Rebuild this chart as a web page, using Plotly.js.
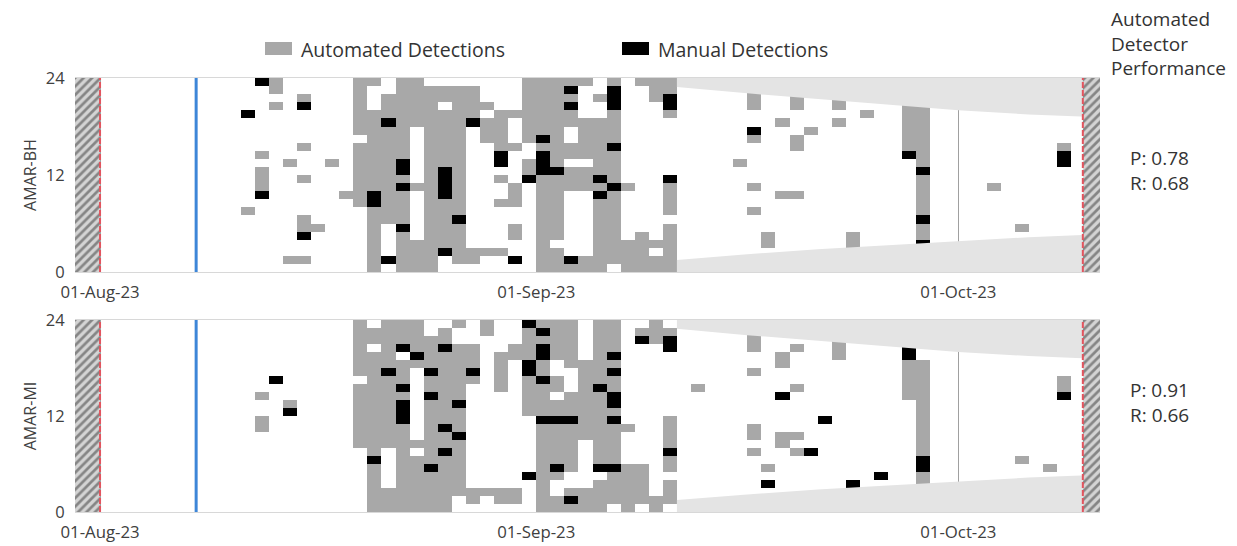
<!DOCTYPE html>
<html><head><meta charset="utf-8">
<script src="https://cdn.plot.ly/plotly-3.0.1.min.js"></script>
<style>html,body{margin:0;padding:0;background:#fff}#chart{width:1237px;height:546px}</style>
</head><body><div id="chart"></div>
<script>
// ---- DATA ----
// Each string = one day (index 0 = 01-Aug-23), chars from hour 23 (top) down to hour 0.
// '.' = nothing, 'a' = automated detection, 'm' = manual detection
const startDate = '2023-08-01';
const stationNames = ['AMAR-BH', 'AMAR-MI'];
const E = '';
const detBH = [E,E,E,E,E,E,E,E,E,E,
"....m...........a.......",
"m........a.aaam.........",
"aa.a....................",
"..........a...........a.",
"..am....a...a....aam..a.",
"..................a.....",
"..........a.............",
"..............a.........",
"aaaaaaa.aaaaaaaa........",
"a...aaaaaaaaaammaaaaaaaa",
"..aaamaaaaaaaaaaaa....m.",
"aaaaaaaaaammamaaaamaaaaa",
"aaaaaa.......a......aaaa",
".aaaaaaaaaaaaaaaaaaaaaaa",
".aa.aaaaaaammmmaaaaaam..",
".aaaaaaaaaaaaaaaamaaaaa.",
".aaaam...............aa.",
"...a.aaa.............a..",
"....aaaaamm.a..a.....a..",
"....a...a....aaa..aa..m.",
"aaaaaaaa..aam...........",
"aaaaaaamammmaaaaaaaaaaaa",
"aaaaaaaaaaamaaaaaaaa.aaa",
"amamaa..aa.aaa........ma",
"a....aaaaa.aaa........aa",
"..a..aaaaaaamamaaaaaaaaa",
"ammmaaaamaaaamaaaaaaaaa.",
".............a......aaaa",
"a..................aaaaa",
"aaa.................a.aa",
"aamma.......maaaa.aaaaaa",
E,E,E,E,
"..........a.............",
".aaa..ma.....a..a.......",
".a.................aa...",
".a...a........a.......a.",
"..aa...aa.....a........m",
"......a.................",
E,
"..aa.a..................",
"...................aa...",
"....a...................",
"a.......................",
E,
"mmaaaaaaam..............",
"...aaaaaaaamaaaaamaamama",
E,E,E,E,
".............a..........",
E,
"..................a.....",
E,E,
"aa......amm.............",
".......................m"];
const detMI = [E,E,E,E,E,E,E,E,E,E,E,
".........a..aa..........",
".......m................",
"..........am............",
E,E,E,E,
"aaaaaaa.aaaaaaaa........",
".aa.aaaaaaaaaaaaamaaaaaa",
"aaaaaamaaaaaaaaa.....aaa",
"aaam.aaamammmaaaaaaaaaaa",
"aaaama.........a.aaaaaaa",
"..aaaamaamaaaaaaaamaaaaa",
".aamaaaaaaaaamaamaaaaaaa",
"a..aaaaaaamaaamaaaaaaa..",
"...aaama.............aa.",
"aa...................a..",
"....aaaaa............aa.",
"...aa................aa.",
"maaaammaaaaa.......m....",
"amammaamaaaamaaaaaaaaaaa",
"aaaaa..aa.aamaaaaama..aa",
"aaaaaa...aaamaaaaaa..ama",
".....aaaaaaaaaa......aaa",
"aaaaaaaamaaaaaaaaam.aaaa",
"aaaamamaammamaaaaamaaaa.",
".............a....aaaaaa",
".am...............aaaaa.",
"aaa...................aa",
".amm........aaaamaa.aaa.",
E,
"........a...............",
E,E,
"a.......................",
"aaaa..a......aa.a......a",
".a................a.m.a.",
"....aa...m....aa......a.",
"...a....a.....a.a.....a.",
"................m.......",
"............m...........",
"..aaa...................",
"....................m.m.",
E,
"...................m....",
E,
"ammmmaaaaa..............",
".....aaaaaaaaaaaammaamaa",
E,E,E,
"...m....................",
E,E,
".................a......",
E,
"..................a.....",
"m......aam..............",
".......................m"];
const precision = ['0.78', '0.91'];
const recall = ['0.68', '0.66'];
// night shading (dusk / dawn hour boundaries, by day index)
const nightDays = [41, 46, 51, 56, 61, 66, 71.5];
const duskHours = [22.9, 22.1, 21.4, 20.7, 20.0, 19.5, 19.1];
const dawnHours = [1.5, 2.2, 2.8, 3.3, 3.8, 4.3, 4.7];
const tickDates = ['2023-08-01', '2023-09-01', '2023-10-01'];
const tickLabels = ['01-Aug-23', '01-Sep-23', '01-Oct-23'];
const dataStartDay = 0, dataEndDay = 69.85, deploymentDay = 6.83;
const legendLabels = ['Automated Detections', 'Manual Detections'];

// ---- BUILD ----
const W = 1237, H = 546;
const FONT = '"Open Sans", "Noto Sans", sans-serif';
const GRAY = '#a8a8a8';
function dayToDate(d) {
  const ms = Date.parse(startDate + 'T00:00:00Z') + d * 86400000;
  return new Date(ms).toISOString().slice(0, 19).replace('T', ' ');
}
const px = x => x / W, py = y => 1 - y / H;
const nDays = 70;
const xCenters = [], yCenters = [];
for (let d = 0; d < nDays; d++) xCenters.push(dayToDate(d + 0.5));
for (let h = 0; h < 24; h++) yCenters.push(h + 0.5);
function toZ(det) {
  const z = [];
  for (let h = 0; h < 24; h++) {
    const row = [];
    for (let d = 0; d < nDays; d++) {
      const s = (det[d] || '').padEnd(24, '.');
      const c = s[23 - h];
      row.push(c === 'a' ? 1 : c === 'm' ? 2 : null);
    }
    z.push(row);
  }
  return z;
}
const traces = [], shapes = [], annotations = [];
const layout = {
  width: W, height: H, margin: {l: 0, r: 0, t: 0, b: 0},
  paper_bgcolor: '#fff', plot_bgcolor: '#fff', showlegend: false,
  font: {family: FONT, color: '#404040'}
};
const yDomains = [[1 - 272 / H, 1 - 78 / H], [1 - 512 / H, 1 - 320 / H]];
const xDomain = [75 / W, 1100 / W];
const xRange = [dayToDate(-1.78), dayToDate(71.07)];
[detBH, detMI].forEach((det, i) => {
  const xa = i === 0 ? 'x' : 'x2', ya = i === 0 ? 'y' : 'y2';
  const xk = i === 0 ? 'xaxis' : 'xaxis2', yk = i === 0 ? 'yaxis' : 'yaxis2';
  // night shading polygons
  const topX = [dayToDate(nightDays[0])], topY = [24];
  nightDays.forEach((d, k) => { topX.push(dayToDate(d)); topY.push(duskHours[k]); });
  topX.push(dayToDate(nightDays[nightDays.length - 1])); topY.push(24);
  traces.push({type: 'scatter', x: topX, y: topY, xaxis: xa, yaxis: ya, mode: 'lines',
    fill: 'toself', fillcolor: '#e4e4e4', line: {width: 0, color: 'rgba(0,0,0,0)'}, hoverinfo: 'skip'});
  const botX = [dayToDate(nightDays[0])], botY = [0];
  nightDays.forEach((d, k) => { botX.push(dayToDate(d)); botY.push(dawnHours[k]); });
  botX.push(dayToDate(nightDays[nightDays.length - 1])); botY.push(0);
  traces.push({type: 'scatter', x: botX, y: botY, xaxis: xa, yaxis: ya, mode: 'lines',
    fill: 'toself', fillcolor: '#e4e4e4', line: {width: 0, color: 'rgba(0,0,0,0)'}, hoverinfo: 'skip'});
  // detections
  traces.push({type: 'heatmap', x: xCenters, y: yCenters, z: toZ(det), xaxis: xa, yaxis: ya,
    zmin: 1, zmax: 2, showscale: false, hoverongaps: false,
    colorscale: [[0, GRAY], [0.5, GRAY], [0.5, '#000'], [1, '#000']]});
  // hatched no-data regions
  [[-3, dataStartDay], [dataEndDay, 73]].forEach(([a, b]) => {
    traces.push({type: 'scatter', x: [dayToDate(a), dayToDate(b), dayToDate(b), dayToDate(a), dayToDate(a)],
      y: [0, 0, 24, 24, 0], xaxis: xa, yaxis: ya, mode: 'lines', fill: 'toself',
      fillcolor: '#d2d2d2', line: {width: 0, color: 'rgba(0,0,0,0)'},
      fillpattern: {shape: '/', fgcolor: '#858585', bgcolor: '#d4d4d4', size: 6, solidity: 0.45},
      hoverinfo: 'skip'});
  });
  // vertical markers
  [dataStartDay, dataEndDay].forEach(d => shapes.push({type: 'line', xref: xa, yref: ya,
    x0: dayToDate(d), x1: dayToDate(d), y0: 0, y1: 24, layer: 'above',
    line: {color: '#e2545e', width: 2, dash: '6px,2px'}}));
  shapes.push({type: 'line', xref: xa, yref: ya, x0: dayToDate(deploymentDay), x1: dayToDate(deploymentDay),
    y0: 0, y1: 24, layer: 'above', line: {color: '#3d86d8', width: 3}});
  layout[xk] = {type: 'date', domain: xDomain, anchor: ya, range: xRange,
    tickmode: 'array', tickvals: tickDates, ticktext: tickLabels,
    showgrid: true, gridcolor: '#a0a0a0', gridwidth: 1, zeroline: false,
    showline: true, mirror: true, linecolor: '#d8d8d8', linewidth: 1,
    ticks: 'outside', ticklen: 5, tickcolor: 'rgba(0,0,0,0)',
    tickfont: {size: 16.8, color: '#404040', family: FONT}};
  layout[yk] = {domain: yDomains[i], anchor: xa, range: [0, 24],
    tickmode: 'array', tickvals: [0, 12, 24], showgrid: false, zeroline: false, showline: false,
    ticks: 'outside', ticklen: 6, tickcolor: 'rgba(0,0,0,0)',
    tickfont: {size: 16.5, color: '#404040', family: FONT},
    title: {text: stationNames[i], font: {size: 16, color: '#404040', family: FONT}, standoff: 5}};
  // performance text
  const yc = i === 0 ? 170 : 402;
  annotations.push({xref: 'paper', yref: 'paper', x: px(1159), y: py(yc), xanchor: 'center', yanchor: 'middle',
    text: 'P: ' + precision[i] + '<br>R: ' + recall[i], showarrow: false, align: 'left',
    font: {size: 19, color: '#333', family: FONT}});
});
annotations.push({xref: 'paper', yref: 'paper', x: px(1109), y: py(4), xanchor: 'left', yanchor: 'top',
  text: 'Automated<br>Detector<br>Performance', showarrow: false, align: 'left',
  font: {size: 19, color: '#333', family: FONT}});
// legend
const legendSw = [[265, GRAY], [622, '#000']];
legendSw.forEach(([x0, col], k) => {
  shapes.push({type: 'rect', xref: 'paper', yref: 'paper', x0: px(x0), x1: px(x0 + 27), y0: py(55), y1: py(42),
    fillcolor: col, line: {width: 0}});
  annotations.push({xref: 'paper', yref: 'paper', x: px(x0 + 34), y: py(49), xanchor: 'left', yanchor: 'middle',
    text: legendLabels[k], showarrow: false, font: {size: 19.5, color: '#333', family: FONT}});
});
layout.shapes = shapes;
layout.annotations = annotations;
Plotly.newPlot('chart', traces, layout, {staticPlot: true});
</script></body></html>
